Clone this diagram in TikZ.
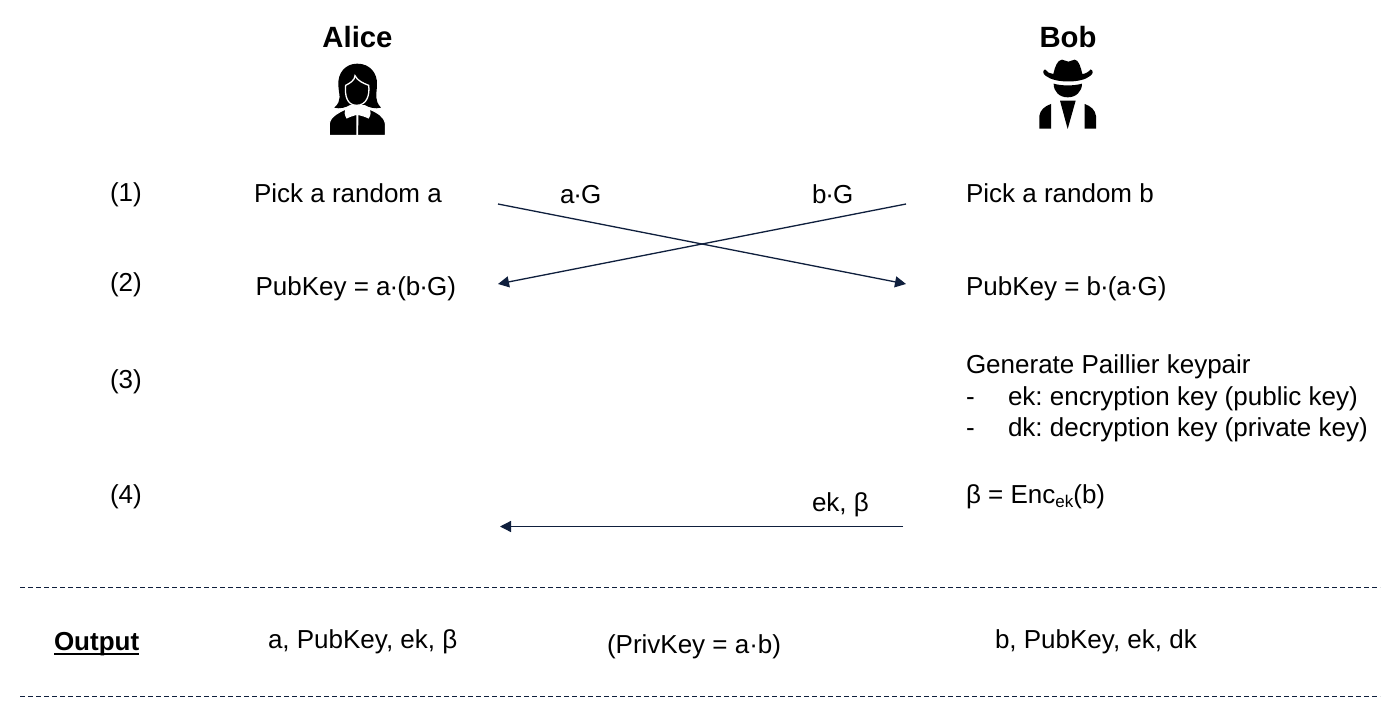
\documentclass[tikz,border=0pt]{standalone}
\usepackage{fontspec}
\setmainfont{Liberation Sans}
\usetikzlibrary{arrows.meta}
\definecolor{navy}{HTML}{0F1F3D}
\newcommand\mdot{\kern-1pt·\kern-1pt}
\tikzset{
  txt/.style={anchor=base west,inner sep=0pt,outer sep=0pt,font=\fontsize{26}{30}\selectfont,text=black},
  head/.style={anchor=base,inner sep=0pt,outer sep=0pt,font=\fontsize{29.3}{34}\selectfont\bfseries,text=black},
  msg/.style={draw=navy,line width=1.3pt,-{Triangle[length=11pt,width=11pt]}},
  sep/.style={draw=navy,line width=1.2pt,dash pattern=on 5pt off 3pt},
  icon/.style={x=.3333pt,y=-.3333pt}
}
\begin{document}
\frenchspacing
\begin{tikzpicture}[x=1pt,y=-1pt]
\useasboundingbox (0,0) rectangle (1400,712);
\fill[white] (0,0) rectangle (1400,712);
\node[head] (alice) at (357.5,47) {Alice};
\node[head] (bob) at (1068,47) {Bob};
% Alice icon
\begin{scope}[shift={(300,10)},icon]
\fill[black] (172,161) .. controls (135,161) and (113,190) .. (115,225) .. controls (116,255) and (128,270) .. (103,293) .. controls (120,298) and (138,292) .. (150,285) -- (195,285) .. controls (205,292) and (225,298) .. (243,293) .. controls (222,270) and (230,255) .. (231,225) .. controls (233,190) and (210,161) .. (172,161) -- cycle;
\draw[white,line width=1.3pt,fill=black] (165,197) .. controls (165,210) and (150,220) .. (137,226) .. controls (134,255) and (140,286) .. (170,286) .. controls (200,286) and (210,255) .. (206,226) .. controls (190,220) and (172,212) .. (165,197) -- cycle;
\draw[white,line width=1.1pt,fill=black] (88,376) -- (88,340) .. controls (92,318) and (115,308) .. (135,298) -- (172,312) -- (210,298) .. controls (232,308) and (252,318) .. (256,340) -- (256,376) -- cycle;
\fill[white] (135,295) .. controls (148,296) and (160,304) .. (172,310) .. controls (184,304) and (196,296) .. (210,295) .. controls (213,305) and (213,315) .. (206,326) .. controls (195,320) and (185,318) .. (175,315) -- (174.5,378) -- (169.5,378) -- (169,315) .. controls (160,318) and (150,320) .. (140,326) .. controls (133,315) and (133,305) .. (135,295) -- cycle;
\end{scope}
% Bob icon
\begin{scope}[shift={(1000,10)},icon]
\fill[black] (160,192) .. controls (165,170) and (172,150) .. (186,149) .. controls (195,150) and (200,155) .. (205,155) .. controls (210,155) and (215,150) .. (224,149) .. controls (236,150) and (242,170) .. (247,192) .. controls (255,192) and (266,186) .. (272,178) .. controls (281,182) and (280,192) .. (270,198) .. controls (245,220) and (165,220) .. (138,198) .. controls (128,192) and (127,182) .. (135,178) .. controls (140,186) and (150,192) .. (160,192) -- cycle;
\fill[black] (161,221) .. controls (185,228) and (222,228) .. (246,221) .. controls (246,245) and (228,262) .. (203,262) .. controls (178,262) and (161,245) .. (161,221) -- cycle;
\fill[black] (180,272) -- (227,272) -- (203,357) -- cycle;
\fill[black] (153,282) -- (153,356) -- (118,356) -- (118,318) .. controls (120,300) and (135,288) .. (153,282) -- cycle;
\fill[black] (254,282) -- (254,356) -- (288,356) -- (288,318) .. controls (286,300) and (272,288) .. (254,282) -- cycle;
\end{scope}
% Step labels
\node[txt] (s1) at (110,201) {(1)};
\node[txt] (s2) at (110,291) {(2)};
\node[txt] (s3) at (110,388) {(3)};
\node[txt] (s4) at (110,503) {(4)};
% Alice column
\node[txt] (a1) at (254,202) {Pick a random a};
\node[txt] (a2) at (255.5,295) {PubKey = a\mdot(b\mdot G)};
% Bob column
\node[txt] (b1) at (966,202) {Pick a random b};
\node[txt] (b2) at (966,295) {PubKey = b\mdot(a\mdot G)};
\node[txt] (b3) at (966,373) {Generate Paillier keypair};
\node[txt] (d1) at (966,405) {-};
\node[txt] (b4) at (1008,405) {ek: encryption key (public key)};
\node[txt] (d2) at (966,436) {-};
\node[txt] (b5) at (1008,436) {dk: decryption key (private key)};
\node[txt] (b6) at (966,503) {β = Enc\raisebox{-4pt}{\fontsize{17}{20}\selectfont ek}(b)};
% Message labels
\node[txt] (m1) at (560,203) {a\mdot G};
\node[txt] (m2) at (812,203) {b\mdot G};
\node[txt] (m3) at (812,511) {ek, β};
% Arrows
\coordinate (p1) at (498,204);
\coordinate (q1) at (906,284);
\coordinate (p2) at (906,204);
\coordinate (q2) at (498,284);
\coordinate (p3) at (903,526.5);
\coordinate (q3) at (500,526.5);
\draw[msg] (p1) -- (q1);
\draw[msg] (p2) -- (q2);
\draw[msg] (p3) -- (q3);
% Separators
\coordinate (l1) at (20,587.5);
\coordinate (r1) at (1380,587.5);
\coordinate (l2) at (20,696.5);
\coordinate (r2) at (1380,696.5);
\draw[sep] (l1) -- (r1);
\draw[sep] (l2) -- (r2);
% Output row
\node[txt,font=\fontsize{26}{30}\selectfont\bfseries] (o0) at (54,650) {\rlap{\rule[-5pt]{85pt}{1.8pt}}Output};
\node[txt] (o1) at (268,648) {a, PubKey, ek, β};
\node[txt] (o2) at (607,653) {(PrivKey = a·b)};
\node[txt] (o3) at (995,648) {b, PubKey, ek, dk};
\end{tikzpicture}
\end{document}
